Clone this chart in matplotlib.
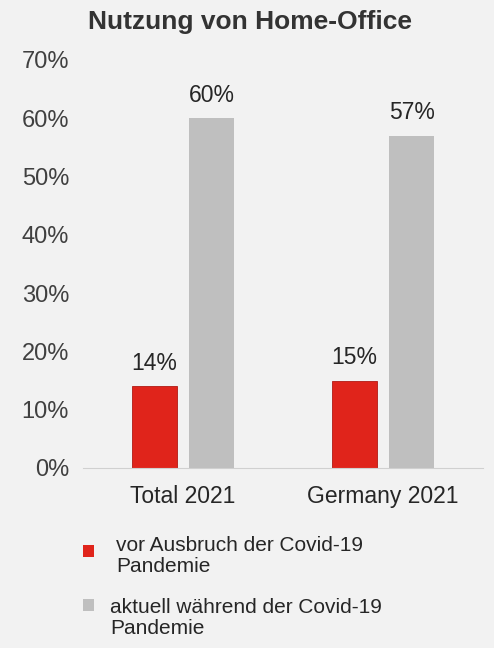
import matplotlib
matplotlib.use("Agg")
import matplotlib.pyplot as plt
from matplotlib.patches import Rectangle

categories = ["Total 2021", "Germany 2021"]
vor = [14, 15]
aktuell = [60, 57]
series_names = ["vor Ausbruch der Covid-19\nPandemie", "aktuell während der Covid-19\nPandemie"]
title = "Nutzung von Home-Office"

plt.rcParams['font.family'] = ['Liberation Sans', 'DejaVu Sans']
bg = "#f2f2f2"
fig = plt.figure(figsize=(4.94, 6.48), dpi=100, facecolor=bg)
ax = fig.add_axes([83/494, 1-468/648, 400/494, 408/648], facecolor=bg)
x = range(len(categories))
w = 0.225
red, gray = "#e0241b", "#bfbfbf"
b1 = ax.bar([i-0.144 for i in x], vor, w, color=red, edgecolor="#b01a14", linewidth=0.6)
b2 = ax.bar([i+0.144 for i in x], aktuell, w, color=gray)
for bars, vals in ((b1, vor), (b2, aktuell)):
    for b, v in zip(bars, vals):
        ax.text(b.get_x()+b.get_width()/2, v+2, f"{v}%", ha="center", va="bottom", fontsize=16.5, color="#262626")
ax.set_xlim(-0.5, 1.5)
ax.set_ylim(0, 70)
ax.set_yticks(range(0, 71, 10))
ax.set_yticklabels([f"{t}%" for t in range(0, 71, 10)], fontsize=17, color="#404040")
ax.set_xticks(list(x))
ax.set_xticklabels(categories, fontsize=16.5, color="#262626")
ax.tick_params(length=0, pad=10)
ax.tick_params(axis="x", pad=12)
for s in ["top", "right", "left"]:
    ax.spines[s].set_visible(False)
ax.spines["bottom"].set_color("#d0d0d0")
fig.text(250/494, 1-22/648, title, ha="center", va="center", fontsize=19, fontweight="bold", color="#333333")

for i, (c, name) in enumerate(((red, series_names[0]), (gray, series_names[1]))):
    ym = 1 - (556 + i*62)/648
    fig.patches.append(Rectangle((83/494, 1-(551+i*54+6)/648), 11/494, 12/648, transform=fig.transFigure, facecolor=c, edgecolor="none"))
    fig.text(110/494 + (0.012 if i == 0 else 0), ym, name, ha="left", va="center", fontsize=15, color="#262626", linespacing=1.15)
fig.savefig("out.png", dpi=100, facecolor=bg)
